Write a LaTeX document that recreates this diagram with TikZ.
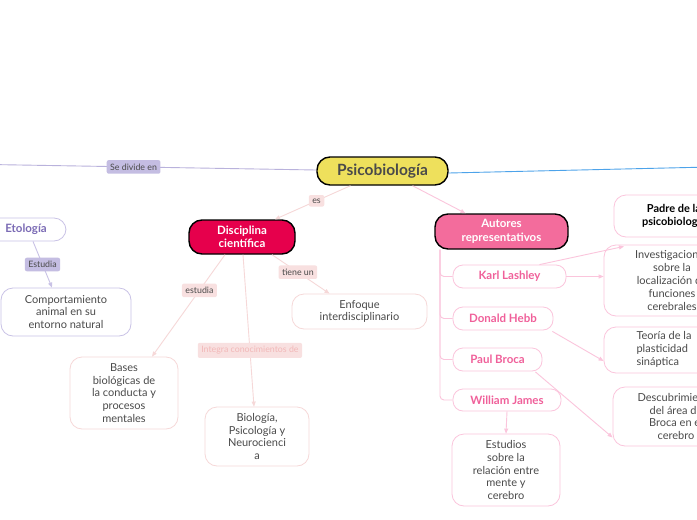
\documentclass[tikz,border=0pt]{standalone}
\usepackage{fontspec}
\setmainfont{Lato}
\usetikzlibrary{arrows.meta}
\definecolor{ink}{HTML}{4A4A4A}
\definecolor{sunny}{HTML}{EEE05C}
\definecolor{crimson}{HTML}{E6004C}
\definecolor{rosa}{HTML}{F36C9C}
\definecolor{rosaline}{HTML}{FBC5DC}
\definecolor{rosatext}{HTML}{F0609A}
\definecolor{blush}{HTML}{F6D8D8}
\definecolor{blushtag}{HTML}{F8E0E0}
\definecolor{blushtext}{HTML}{F2B8B8}
\definecolor{lilac}{HTML}{C9C2E6}
\definecolor{lilactag}{HTML}{C4BDE2}
\definecolor{lilacline}{HTML}{B9B2DC}
\definecolor{lilactext}{HTML}{7B6BB5}
\definecolor{skyline}{HTML}{4DA3EA}
\begin{document}
\begin{tikzpicture}[x=1pt,y=-1pt,
    topic/.style={draw=black,line width=1.4pt,rounded corners=13pt,align=center,inner sep=0pt,font=\bfseries\fontsize{11.5}{13.5}\selectfont},
    leaf/.style={draw,line width=0.8pt,fill=white,rounded corners=12pt,align=center,inner sep=0pt,text=ink,font=\fontsize{11}{12.8}\selectfont},
    author/.style={leaf,draw=rosaline,rounded corners=10pt,text=rosatext,font=\bfseries\fontsize{11.5}{13}\selectfont,minimum height=23pt},
    tag/.style={rounded corners=2pt,inner sep=3.5pt,font=\fontsize{8.8}{10}\selectfont,text=ink},
    arr/.style={-{Triangle[length=5pt,width=4pt]}}]
    \useasboundingbox (0,0) rectangle (697,520);
    \clip (0,0) rectangle (697,520);
    \fill[white] (0,0) rectangle (697,520);

    % main topics
    \node[topic,fill=sunny,text=ink,minimum width=131pt,minimum height=28pt,font=\bfseries\fontsize{15.5}{17}\selectfont] (psico) at (382.5,171) {Psicobiología};
    \node[topic,fill=crimson,text=white,minimum width=106pt,minimum height=34pt] (disc) at (242,237) {Disciplina\\científica};
    \node[topic,fill=rosa,text=white,minimum width=133pt,minimum height=35pt] (aut) at (501.5,231.5) {Autores\\representativos};
    \coordinate (root) at (-10,164.5);
    \coordinate (sky) at (710,167);

    % left branch
    \node[leaf,draw=lilac,text=lilactext,minimum width=80pt,minimum height=23pt,font=\bfseries\fontsize{11.5}{13}\selectfont] (eto) at (26,229.5) {Etología};
    \node[leaf,draw=lilac,minimum width=130pt,minimum height=48pt] (comp) at (66,312) {Comportamiento\\animal en su\\entorno natural};

    % disciplina
    \node[leaf,draw=blush,minimum width=135pt,minimum height=35pt] (enf) at (359.5,311.5) {Enfoque\\interdisciplinario};
    \node[leaf,draw=blush,minimum width=108pt,minimum height=72pt] (bases) at (124,393) {Bases\\biológicas de\\la conducta y\\procesos\\mentales};
    \node[leaf,draw=blush,minimum width=104pt,minimum height=59pt] (bio) at (257,436.5) {Biología,\\Psicología y\\Neurocienci\\a};

    % autores
    \node[author,minimum width=113pt] (karl) at (509.5,276.5) {Karl Lashley};
    \node[author,minimum width=100pt] (hebb) at (503,318.5) {Donald Hebb};
    \node[author,minimum width=89pt] (broca) at (497.5,359.5) {Paul Broca};
    \node[author,minimum width=108pt,minimum height=22pt] (james) at (507,400) {William James};
    \node[leaf,draw=rosaline,minimum width=120pt,minimum height=42pt,text=black,font=\bfseries\fontsize{11}{13.5}\selectfont] (padre) at (674,216) {Padre de la\\psicobiología};
    \node[leaf,draw=rosaline,minimum width=136pt,minimum height=71pt] (inv) at (672,280.5) {Investigaciones\\sobre la\\localización de\\funciones\\cerebrales};
    \node[leaf,draw=rosaline,minimum width=120pt,minimum height=46pt] (teo) at (664,350) {\begin{tabular}{@{}l@{}}Teoría de la\\plasticidad\\sináptica\end{tabular}};
    \node[leaf,draw=rosaline,minimum width=126pt,minimum height=59pt] (desc) at (676,416.5) {Descubrimiento\\del área de\\Broca en el\\cerebro};
    \node[leaf,draw=rosaline,minimum width=108pt,minimum height=72pt] (est) at (506,470) {Estudios\\sobre la\\relación entre\\mente y\\cerebro};

    % connectors
    \draw[lilacline,line width=0.9pt] (root) -- ([yshift=1pt]psico.west) node[tag,fill=lilactag,pos=0.44] (divide) {Se divide en};
    \draw[lilacline,line width=0.9pt] (-10,200) -- (eto.north west);
    \draw[skyline,line width=0.9pt] ([yshift=-2pt]psico.east) -- (sky);
    \draw[blush,line width=0.9pt,arr] ([xshift=-32pt]psico.south) -- ([xshift=33pt]disc.north) node[tag,fill=blushtag,pos=0.45] (es) {es};
    \draw[rosaline,line width=0.9pt,arr] ([xshift=30pt]psico.south) -- ([xshift=-36pt]aut.north);
    \draw[lilac,line width=0.9pt,arr] ([xshift=7pt]eto.south) -- ([xshift=-14pt]comp.north) node[tag,fill=lilactag,pos=0.5] (estudia) {Estudia};
    \draw[blush,line width=0.9pt,arr] ([xshift=-17pt]disc.south) -- ([xshift=28pt]bases.north) node[tag,fill=blushtag,pos=0.35] (estudia2) {estudia};
    \draw[blush,line width=0.9pt,arr] ([xshift=1pt]disc.south) -- ([xshift=-3pt]bio.north) node[tag,fill=blushtag,text=blushtext,pos=0.63] (integra) {Integra conocimientos de};
    \draw[blush,line width=0.9pt,arr] ([xshift=30pt]disc.south) -- ([xshift=-30pt]enf.north) node[tag,fill=blushtag,pos=0.45] (tiene) {tiene un};
    \foreach \who in {karl,hebb,broca,james}
        \draw[rosaline,line width=0.9pt,rounded corners=4pt] ([xshift=-61.5pt]aut.south) |- (\who.west);
    \draw[rosaline,line width=0.9pt,arr] ([xshift=30pt]karl.north) -- ([xshift=-50pt,yshift=-9pt]padre.south);
    \draw[rosaline,line width=0.9pt,arr] (karl.east) -- (inv.west |- karl.east);
    \draw[rosaline,line width=0.9pt,arr] ([xshift=-1pt,yshift=-1pt]hebb.south east) -- ([yshift=-11pt]teo.west);
    \draw[rosaline,line width=0.9pt,arr] ([xshift=-7pt,yshift=-0.5pt]broca.south east) -- ([yshift=-21pt]desc.west);
    \draw[rosaline,line width=0.9pt,arr] (james.south) -- (est.north);
\end{tikzpicture}
\end{document}
